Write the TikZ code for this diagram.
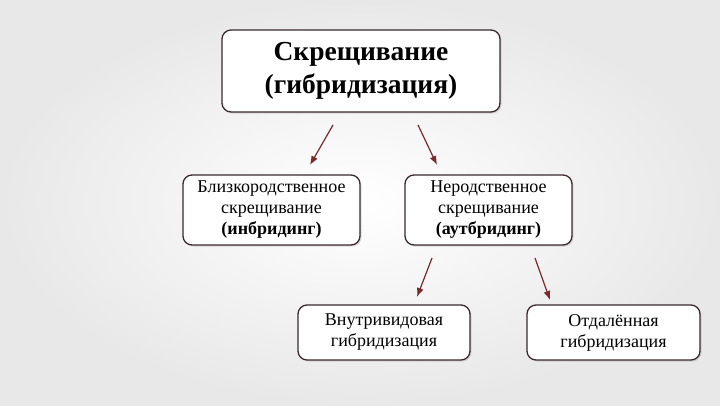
\documentclass[tikz,border=0pt]{standalone}
\usepackage{fontspec}
\setmainfont{Liberation Serif}
\usetikzlibrary{shadows,arrows.meta}
\definecolor{bord}{HTML}{3A2A2C}
\definecolor{arr}{HTML}{7A2A2E}
\tikzset{
 box/.style={draw=bord,line width=1.3pt,rounded corners=9pt,fill=white,align=center,inner sep=1pt,
   drop shadow={shadow xshift=1.5pt,shadow yshift=-1.5pt,opacity=0.25},font=\fontsize{18}{21}\selectfont},
 arw/.style={-{Latex[length=9pt,width=7pt]},draw=arr,line width=1.2pt}
}
\begin{document}
\begin{tikzpicture}[x=1pt,y=-1pt]
\useasboundingbox (0,0) rectangle (720,405);
\shade[inner color=white,outer color=black!9] (0,0) rectangle (720,405);
\node[box,minimum width=278pt,minimum height=82pt,font=\fontsize{27.5}{33}\selectfont\bfseries] (top) at (361,71) {Скрещивание\\(гибридизация)};
\node[box,minimum width=177pt,minimum height=70pt] (l) at (271.5,210) {Близкородственное\\скрещивание\\\textbf{(инбридинг)}};
\node[box,minimum width=167pt,minimum height=70pt] (r) at (488.5,210) {Неродственное\\скрещивание\\\textbf{(аутбридинг)}};
\node[box,minimum width=172pt,minimum height=55pt] (bl) at (384,332.5) {Внутривидовая\\гибридизация};
\node[box,minimum width=173pt,minimum height=55pt] (br) at (613.5,332.5) {Отдалённая\\гибридизация};
\coordinate (a1) at (333,125); \coordinate (a2) at (310,165);
\coordinate (b1) at (418,125); \coordinate (b2) at (437,165);
\coordinate (c1) at (432,258); \coordinate (c2) at (417,297);
\coordinate (d1) at (535,258); \coordinate (d2) at (550,300);
\draw[arw] (a1) -- (a2);
\draw[arw] (b1) -- (b2);
\draw[arw] (c1) -- (c2);
\draw[arw] (d1) -- (d2);
\end{tikzpicture}
\end{document}
